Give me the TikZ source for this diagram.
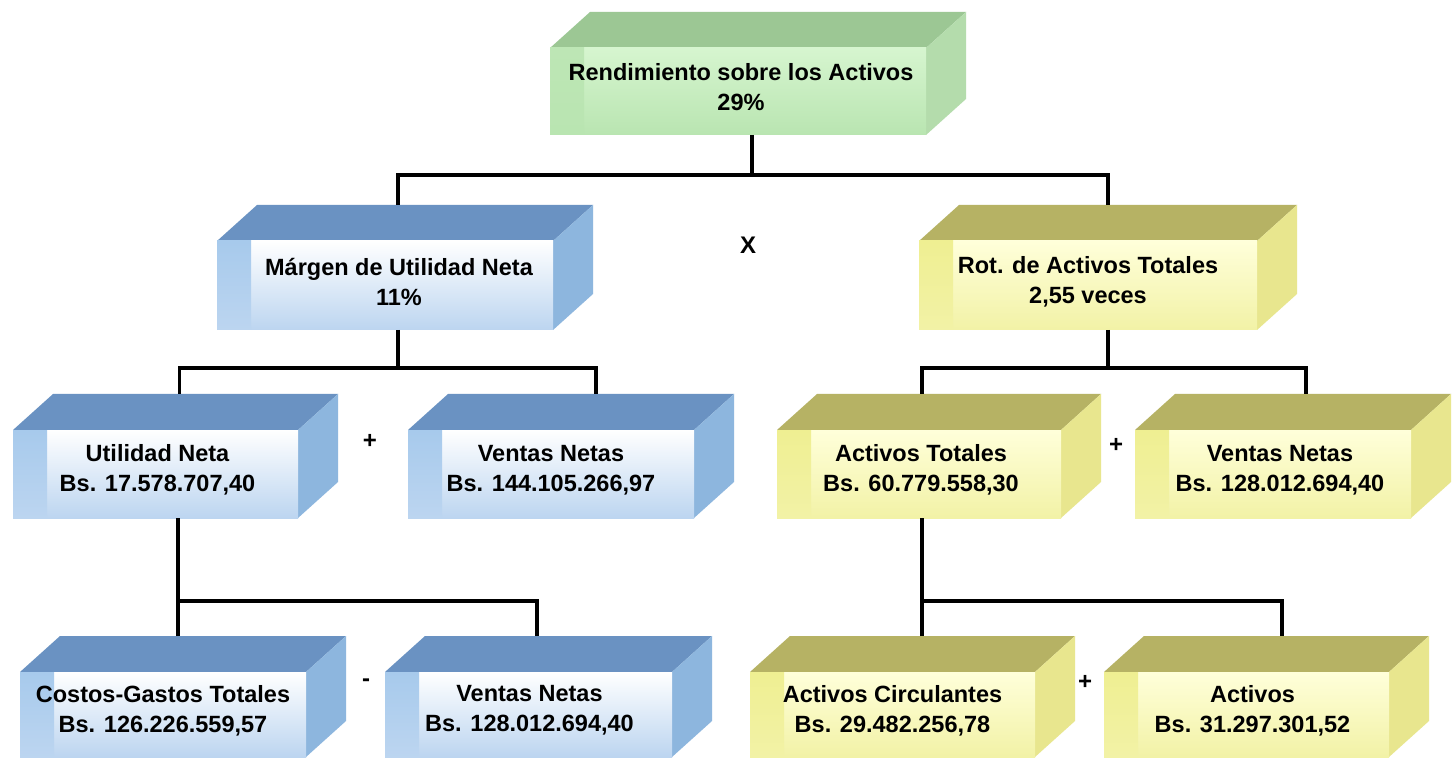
\documentclass[tikz,border=0pt]{standalone}
\usepackage{fontspec}
\setmainfont{Liberation Sans}
\usetikzlibrary{calc}
\definecolor{gTop}{HTML}{9CC794}
\definecolor{gSide}{HTML}{B4DCAC}
\definecolor{gStrip}{HTML}{BDE6B5}
\definecolor{gFrontTop}{HTML}{D6F5CF}
\definecolor{gFrontBot}{HTML}{B9E5B1}
\definecolor{bTop}{HTML}{6A92C2}
\definecolor{bSide}{HTML}{8DB6DE}
\definecolor{bStrip}{HTML}{A7CAEC}
\definecolor{bFrontTop}{HTML}{FFFFFF}
\definecolor{bFrontBot}{HTML}{BCD5F0}
\definecolor{yTop}{HTML}{B6B264}
\definecolor{ySide}{HTML}{E8E68E}
\definecolor{yStrip}{HTML}{EFEF92}
\definecolor{yFrontTop}{HTML}{FFFFDA}
\definecolor{yFrontBot}{HTML}{F2F2A6}
\tikzset{
  boxarea/.style={inner sep=0pt, outer sep=0pt},
  boxtext/.style={align=center, font=\bfseries\fontsize{23.5}{30}\selectfont, inner sep=0pt},
  conn/.style={line width=3.5pt, black},
  oper/.style={font=\bfseries\fontsize{24}{24}\selectfont, inner sep=0pt}
}
% #1 name, #2 x0, #3 y0, #4 x1, #5 y1, #6 colour prefix, #7 text, #8 text x shift
\newcommand\cubebox[8]{%
  \node[boxarea, minimum width={(#4-#2)*1pt}, minimum height={(#5-#3)*1pt}] (#1) at ({(#2+#4)/2},{(#3+#5)/2}) {};
  \fill[#6Top] (#2,#3+36) -- (#2+40,#3) -- (#4,#3) -- (#4-40,#3+36) -- cycle;
  \fill[#6Side] (#4,#3) -- (#4,#5-36) -- (#4-40,#5) -- (#4-40,#3+36) -- cycle;
  \shade[top color=#6FrontTop, bottom color=#6FrontBot] (#2,#3+36) rectangle (#4-40,#5);
  \shade[top color=#6Strip, bottom color=#6FrontBot] (#2,#3+36) rectangle (#2+34,#5);
  \node[boxtext] (#1t) at ({(#2+#4-40)/2+#8},{(#3+36+#5)/2-4}) {#7};
}
\begin{document}
\begin{tikzpicture}[x=1pt,y=-1pt]
\useasboundingbox (0,0) rectangle (1452,759);
\fill[white] (0,0) rectangle (1452,759);

\cubebox{rsa}{550}{12}{966}{135}{g}{Rendimiento sobre los Activos\\29\%}{3}
\cubebox{mun}{217}{205}{593}{330}{b}{Márgen de Utilidad Neta\\11\%}{14}
\cubebox{rat}{919}{205}{1297}{330}{y}{Rot. de Activos Totales\\2,55 veces}{0}
\cubebox{un}{13}{394}{338}{518}{b}{Utilidad Neta\\Bs. 17.578.707,40}{2}
\cubebox{vn1}{408}{394}{734}{518}{b}{Ventas Netas\\Bs. 144.105.266,97}{0}
\cubebox{at}{777}{394}{1101}{518}{y}{Activos Totales\\Bs. 60.779.558,30}{2}
\cubebox{vn2}{1135}{394}{1451}{518}{y}{Ventas Netas\\Bs. 128.012.694,40}{7}
\cubebox{cgt}{20}{636}{346}{757}{b}{Costos-Gastos Totales\\Bs. 126.226.559,57}{0}
\cubebox{vn3}{385}{636}{712}{757}{b}{Ventas Netas\\Bs. 128.012.694,40}{1}
\cubebox{ac}{750}{636}{1075}{757}{y}{Activos Circulantes\\Bs. 29.482.256,78}{0}
\cubebox{af}{1104}{636}{1429}{757}{y}{Activos\\Bs. 31.297.301,52}{6}

% connection points on the boxes
\coordinate (rsaB) at ($(rsa.south)+(-6,0)$);
\coordinate (munT) at ($(mun.north)+(-7,0)$);
\coordinate (munB) at ($(mun.south)+(-7,0)$);
\coordinate (ratT) at (rat.north);
\coordinate (ratB) at (rat.south);
\coordinate (unT) at ($(un.north)+(4,0)$);
\coordinate (unB) at ($(un.south)+(2.5,0)$);
\coordinate (vn1T) at ($(vn1.north)+(25,0)$);
\coordinate (atT) at ($(at.north)+(-17,0)$);
\coordinate (atB) at ($(at.south)+(-17,0)$);
\coordinate (vn2T) at ($(vn2.north)+(13,0)$);
\coordinate (cgtT) at ($(cgt.north)+(-5,0)$);
\coordinate (vn3T) at ($(vn3.north)+(-11.5,0)$);
\coordinate (acT) at ($(ac.north)+(9.5,0)$);
\coordinate (afT) at ($(af.north)+(15.5,0)$);

\coordinate (bus1) at (0,175);
\coordinate (bus2) at (0,368);
\coordinate (bus3) at (0,601);

\draw[conn] (rsaB) -- (rsaB |- bus1);
\draw[conn] (munT) |- (ratT |- bus1) -- (ratT);

\draw[conn] (munB) -- (munB |- bus2);
\draw[conn] (unT) |- (vn1T |- bus2) -- (vn1T);

\draw[conn] (ratB) -- (ratB |- bus2);
\draw[conn] (atT) |- (vn2T |- bus2) -- (vn2T);

\draw[conn] (unB) -- (unB |- bus3);
\draw[conn] (cgtT) |- (vn3T |- bus3) -- (vn3T);

\draw[conn] (atB) -- (atB |- bus3);
\draw[conn] (acT) |- (afT |- bus3) -- (afT);

\node[oper] (opx) at (748,245) {X};
\node[oper] (op1) at (370,441) {+};
\node[oper] (op2) at (1116,445) {+};
\node[oper] (op3) at (366,683) {-};
\node[oper] (op4) at (1085,682) {+};
\end{tikzpicture}
\end{document}
